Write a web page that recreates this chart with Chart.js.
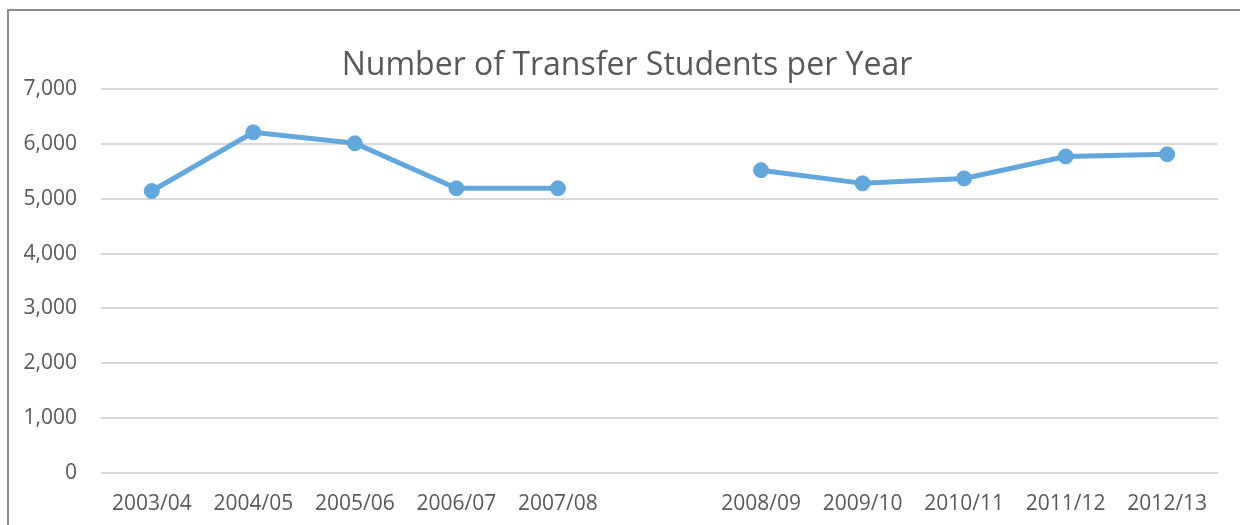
<!DOCTYPE html>
<html>
<head>
<meta charset="utf-8">
<script src="https://cdn.jsdelivr.net/npm/chart.js@4.4.1/dist/chart.umd.min.js"></script>
<style>
  html, body { margin: 0; padding: 0; background: #ffffff; }
  #wrap { position: absolute; left: 0; top: 0; width: 1240px; height: 525px; }
  #frame { position: absolute; left: 7px; top: 9px; width: 1300px; height: 600px;
           border-left: 2px solid #8c8c8c; border-top: 2px solid #8c8c8c; pointer-events: none; }
</style>
</head>
<body>
<div id="wrap">
  <canvas id="c" width="1240" height="525"></canvas>
  <div id="frame"></div>
</div>
<script>
const chartTitle = 'Number of Transfer Students per Year';
const categories = ['2003/04', '2004/05', '2005/06', '2006/07', '2007/08', '', '2008/09', '2009/10', '2010/11', '2011/12', '2012/13'];
const transferStudents = [5140, 6210, 6010, 5190, 5190, null, 5520, 5280, 5370, 5770, 5810];
const yMin = 0;
const yMax = 7000;
const yStep = 1000;

const textColor = '#595959';
const lineColor = '#63A8DC';

// Title centred over the whole chart frame (frame starts at x=7)
const frameTitle = {
  id: 'frameTitle',
  afterDraw(chart) {
    const ctx = chart.ctx;
    ctx.save();
    ctx.font = '32px "Open Sans"';
    ctx.fillStyle = textColor;
    ctx.textAlign = 'center';
    ctx.textBaseline = 'middle';
    ctx.fillText(chartTitle, 627, 65.5);
    ctx.restore();
  }
};

new Chart(document.getElementById('c'), {
  type: 'line',
  data: {
    labels: categories,
    datasets: [{
      label: 'Transfer Students',
      data: transferStudents,
      borderColor: lineColor,
      backgroundColor: lineColor,
      borderWidth: 5,
      pointRadius: 7.5,
      pointBorderWidth: 1,
      pointBackgroundColor: lineColor,
      pointBorderColor: lineColor,
      spanGaps: false,
      tension: 0
    }]
  },
  plugins: [frameTitle],
  options: {
    responsive: false,
    animation: false,
    layout: { padding: { left: 0, right: 22, top: 89, bottom: 0 } },
    plugins: {
      legend: { display: false },
      tooltip: { enabled: false },
      title: { display: false }
    },
    scales: {
      x: {
        offset: true,
        grid: { display: false, drawTicks: false },
        border: { display: false },
        ticks: {
          color: textColor,
          font: { family: 'Open Sans', size: 21 },
          padding: 18,
          maxRotation: 0,
          autoSkip: false
        },
        afterFit: (s) => { s.height = 52; }
      },
      y: {
        min: yMin,
        max: yMax,
        grid: { color: '#D9D9D9', lineWidth: 2, drawTicks: false },
        border: { display: false },
        ticks: {
          stepSize: yStep,
          color: textColor,
          font: { family: 'Open Sans', size: 21 },
          padding: 24
        },
        afterFit: (s) => { s.width = 101; }
      }
    }
  }
});
</script>
</body>
</html>
